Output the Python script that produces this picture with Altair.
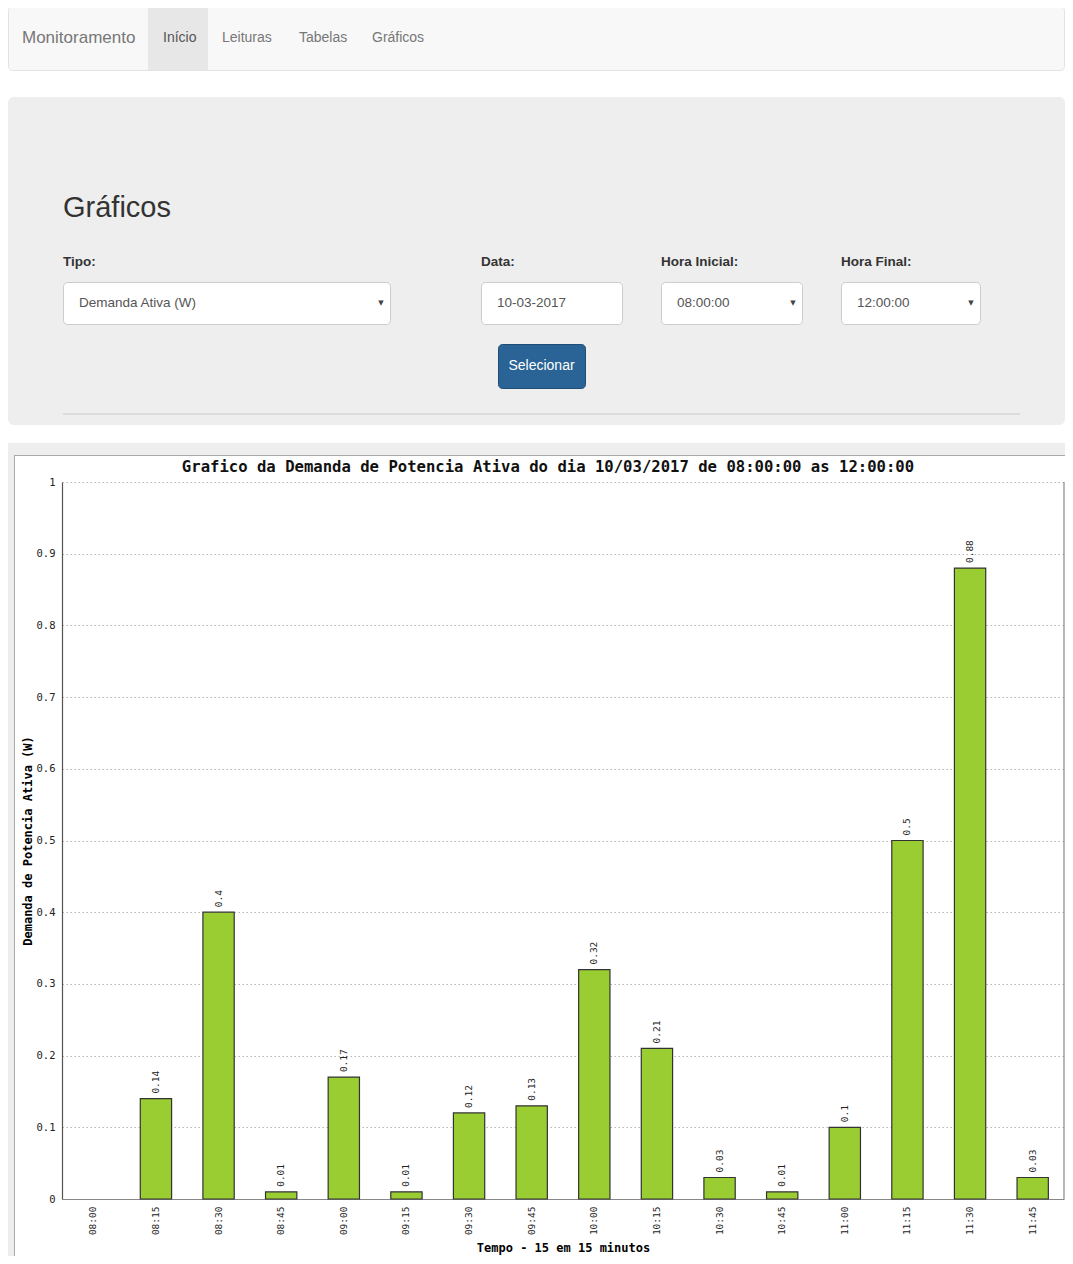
import altair as alt
import pandas as pd

# ---------------- data ----------------
times = ["08:00", "08:15", "08:30", "08:45", "09:00", "09:15", "09:30", "09:45",
         "10:00", "10:15", "10:30", "10:45", "11:00", "11:15", "11:30", "11:45"]
demand = [0, 0.14, 0.4, 0.01, 0.17, 0.01, 0.12, 0.13,
          0.32, 0.21, 0.03, 0.01, 0.1, 0.5, 0.88, 0.03]
y_ticks = [0, 0.1, 0.2, 0.3, 0.4, 0.5, 0.6, 0.7, 0.8, 0.9, 1]

chart_title = "Grafico da Demanda de Potencia Ativa do dia 10/03/2017 de 08:00:00 as 12:00:00"
y_title = "Demanda de Potencia Ativa (W)"
x_title = "Tempo - 15 em 15 minutos"

brand = "Monitoramento"
nav_items = ["Início", "Leituras", "Tabelas", "Gráficos"]
page_heading = "Gráficos"
form_labels = ["Tipo:", "Data:", "Hora Inicial:", "Hora Final:"]
form_values = ["Demanda Ativa (W)", "10-03-2017", "08:00:00", "12:00:00"]
button_text = "Selecionar"

df = pd.DataFrame({"time": times, "value": demand})

# ---------------- layout ----------------
W, H = 1002, 717          # plot area
OX, OY = 62, 482          # page position of the plot origin
PAD = {"left": OX - 8, "top": OY - 8, "right": 1, "bottom": 57}

def px(x):
    return x - OX

def py(y):
    return y - OY

one = alt.Data(values=[{"k": 0}])
UI_FONT = "Liberation Sans"
MONO = "DejaVu Sans Mono"


def box(x1, y1, x2, y2, fill, stroke=None, radius=0, sw=1):
    kw = dict(fill=fill, cornerRadius=radius)
    if stroke:
        kw.update(stroke=stroke, strokeWidth=sw)
    else:
        kw.update(strokeWidth=0)
    return alt.Chart(one).mark_rect(**kw).encode(
        x=alt.value(px(x1)), x2=alt.value(px(x2)),
        y=alt.value(py(y1)), y2=alt.value(py(y2)))


def line(x1, y1, x2, y2, color, sw=1):
    return alt.Chart(one).mark_rule(color=color, strokeWidth=sw).encode(
        x=alt.value(px(x1)), x2=alt.value(px(x2)),
        y=alt.value(py(y1)), y2=alt.value(py(y2)))


def label(x, y, s, size, color, weight="normal", align="left", font=UI_FONT):
    return alt.Chart(one).mark_text(
        text=s, fontSize=size, color=color, fontWeight=weight,
        align=align, baseline="middle", font=font).encode(
        x=alt.value(px(x)), y=alt.value(py(y)))


deco = []
# navbar
deco.append(box(8.5, 6.5, 1064.5, 70.5, "#f8f8f8", "#e3e3e3", 4))
deco.append(box(148, 7, 208, 70, "#e7e7e7"))
deco.append(label(22, 38, brand, 17, "#777"))
for xx, item in zip([163, 222, 299, 372], nav_items):
    deco.append(label(xx, 38, item, 14, "#555" if item == "Início" else "#777"))

# jumbotron with form
deco.append(box(8, 97, 1065, 425, "#eeeeee", None, 6))
deco.append(label(63, 208, page_heading, 29, "#333"))
field_x = [(63, 390), (481, 622), (661, 802), (841, 980)]
for (x1, x2), lab, val in zip(field_x, form_labels, form_values):
    deco.append(label(x1, 262, lab, 13.5, "#333", weight="bold"))
    deco.append(box(x1 + 0.5, 282.5, x2 + 0.5, 324.5, "#ffffff", "#cccccc", 4))
    deco.append(label(x1 + 16, 303, val, 13.5, "#555"))
for (x1, x2), lab in zip(field_x, form_labels):
    if lab != "Data:":
        deco.append(label(x2 - 9, 303, "▼", 7, "#444", align="center", font="DejaVu Sans"))
deco.append(box(498.5, 344.5, 585.5, 388.5, "#2a6496", "#204d74", 4))
deco.append(label(541.5, 366, button_text, 14, "#ffffff", align="center"))
deco.append(line(63, 414, 1020, 414, "#d6d6d6", 1.5))

# frame around the chart
deco.append(box(8, 443, 1065, 455, "#eeeeee"))
deco.append(box(8, 455, 14, 1256, "#eeeeee"))
deco.append(line(14, 455.5, 1065, 455.5, "#aaaaaa"))
deco.append(line(14.5, 455, 14.5, 1256, "#aaaaaa"))

# chart title (placed above the plot area)
deco.append(label(548, 467, chart_title, 15.6, "#111", weight="bold", align="center", font=MONO))

# ---------------- chart ----------------
x_enc = alt.X(
    "time:N",
    scale=alt.Scale(domain=times, paddingInner=0.5, paddingOuter=0.25),
    axis=alt.Axis(
        title=x_title, labelAngle=270, labelAlign="right", labelBaseline="middle",
        labelFont=MONO, labelFontSize=9.5, labelColor="#222", labelPadding=7,
        ticks=False, grid=False, domainColor="#888", domainWidth=1.2,
        titleFont=MONO, titleFontSize=12, titleFontWeight="bold", titleColor="#000",
        titleX=W / 2, titleY=48, titleAlign="center", titleBaseline="middle"),
)
y_enc = alt.Y(
    "value:Q",
    scale=alt.Scale(domain=[0, 1], nice=False),
    axis=alt.Axis(
        title=y_title, values=y_ticks, format="~g",
        labelFont=MONO, labelFontSize=10.5, labelColor="#222", labelPadding=7,
        ticks=False, grid=True, gridColor="#b5b5b5", gridDash=[1.5, 2.5], gridWidth=1,
        domainColor="#555", domainWidth=1.2,
        titleFont=MONO, titleFontSize=12, titleFontWeight="bold", titleColor="#000",
        titleAngle=270, titleX=-35, titleY=H / 2, titleAlign="center", titleBaseline="middle"),
)

base = alt.Chart(df).transform_filter("datum.value > 0")
bars = base.mark_bar(fill="#9acd32", stroke="#333", strokeWidth=1.2).encode(x=x_enc, y=y_enc)
values = base.mark_text(
    angle=270, align="left", baseline="middle", dx=5,
    font=MONO, fontSize=9.5, color="#222").encode(
    x="time:N", y="value:Q", text=alt.Text("value:Q", format="~g"))
right_edge = alt.Chart(one).mark_rule(color="#888", strokeWidth=1.2).encode(
    x=alt.value(W), y=alt.value(0), y2=alt.value(H))

chart = alt.layer(*deco, bars, values, right_edge).properties(
    width=W, height=H,
    padding=PAD,
    autosize=alt.AutoSizeParams(type="none"),
    background="white",
).configure_view(strokeWidth=0)

chart.save("out.html", embed_options={"renderer": "svg", "actions": False})
